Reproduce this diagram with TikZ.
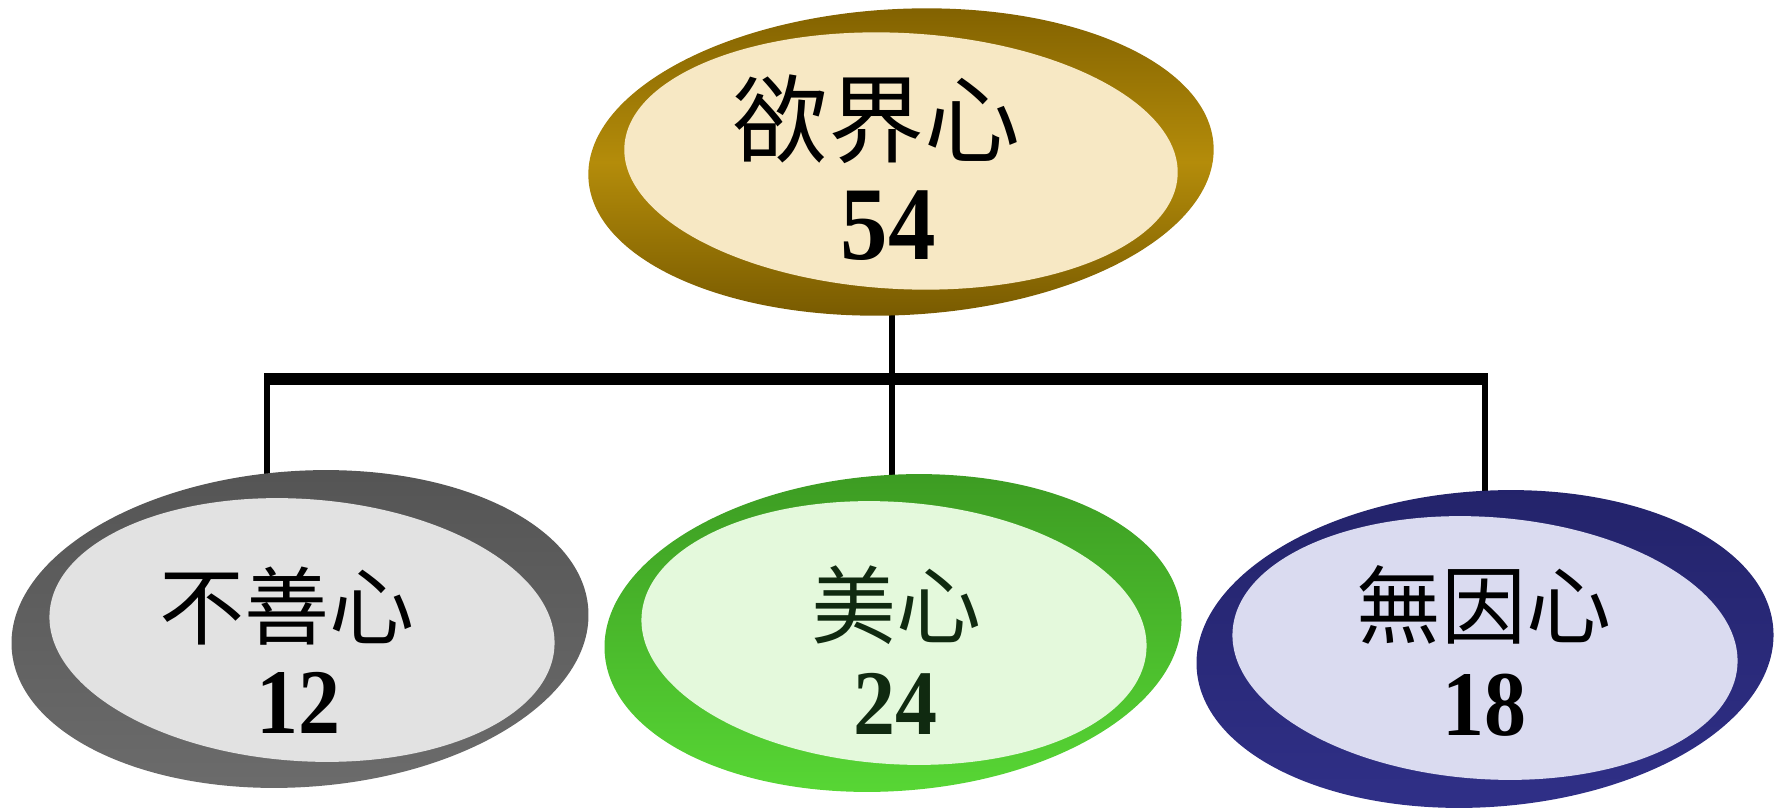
\documentclass[tikz,border=0pt]{standalone}
\usepackage{fontspec}
\setmainfont{Liberation Serif}
\newfontfamily\cjk{Noto Sans CJK TC}
\usetikzlibrary{shapes.geometric,backgrounds}

\definecolor{goldDark}{HTML}{806000}
\definecolor{goldLight}{HTML}{B48C0A}
\definecolor{goldCore}{HTML}{F7E8C4}
\definecolor{greyDark}{HTML}{545454}
\definecolor{greyLight}{HTML}{6C6C6C}
\definecolor{greyCore}{HTML}{E2E2E2}
\definecolor{greenDark}{HTML}{3C9A22}
\definecolor{greenLight}{HTML}{58D835}
\definecolor{greenCore}{HTML}{E4F9DC}
\definecolor{greenText}{HTML}{102A10}
\definecolor{navyDark}{HTML}{23236A}
\definecolor{navyLight}{HTML}{303088}
\definecolor{navyCore}{HTML}{DADBF0}

\begin{document}
\begin{tikzpicture}[x=1pt,y=1pt,
	link/.style={line width=6pt}, % connector lines
	bar/.style={line width=12pt},
	ring/.style={ellipse,inner sep=0pt,outer sep=0pt,
		minimum width=578pt,minimum height=316pt},
	core/.style={ellipse,inner sep=0pt,outer sep=0pt,
		minimum width=506pt,minimum height=262pt},
	cjkname/.style={inner sep=0pt,font=\cjk\fontsize{85}{90}\selectfont},
	number/.style={inner sep=0pt,font=\bfseries\fontsize{84}{90}\selectfont}]
	\useasboundingbox (0,0) rectangle (1783,-811);

	% top: kama
	\node[ring,rotate=3,minimum width=626pt,minimum height=306pt,
		top color=goldDark,bottom color=goldDark!92!black,middle color=goldLight] (kama) at (901,-162) {};
	\node[core,rotate=-3,minimum width=554pt,minimum height=256pt,fill=goldCore] (kamaCore) at (901,-161) {};
	\node[cjkname,font=\cjk\fontsize{96}{100}\selectfont] (kamaName) at (876,-119) {欲界心};
	\node[number,font=\bfseries\fontsize{95}{100}\selectfont] (kamaNum) at (888,-226) {\scalebox{1}[1.1]{54}};

	% bottom row
	\node[ring,rotate=4,top color=greyDark,bottom color=greyLight] (akusala) at (300,-629) {};
	\node[core,rotate=-4,fill=greyCore] (akusalaCore) at (302,-630) {};
	\node[cjkname] (akusalaName) at (287,-606) {不善心};
	\node[number] (akusalaNum) at (298,-703) {\scalebox{1}[1.1]{12}};

	\node[ring,rotate=4,top color=greenDark,bottom color=greenLight] (sobhana) at (893,-633) {};
	\node[core,rotate=-4,fill=greenCore] (sobhanaCore) at (894,-633) {};
	\node[cjkname,text=greenText] (sobhanaName) at (896,-605) {美心};
	\node[number,text=greenText] (sobhanaNum) at (895,-704) {\scalebox{1}[1.1]{24}};

	\node[ring,rotate=4,top color=navyDark,bottom color=navyLight] (ahetuka) at (1485,-649) {};
	\node[core,rotate=-4,fill=navyCore] (ahetukaCore) at (1485,-648) {};
	\node[cjkname] (ahetukaName) at (1484,-605) {無因心};
	\node[number] (ahetukaNum) at (1484,-705) {\scalebox{1}[1.1]{18}};

	% connectors
	\coordinate (barL) at (267,-379);
	\coordinate (barM) at (892,-379);
	\coordinate (barR) at (1485,-379);
	\begin{scope}[on background layer]
		\draw[link] (barM) -- (barM |- kama.center);
		\draw[bar,shorten <=-3pt,shorten >=-3pt] (barL) -- (barR);
		\draw[link] (barL) -- (barL |- akusala.center);
		\draw[link] (barM) -- (barM |- sobhana.center);
		\draw[link] (barR) -- (barR |- ahetuka.center);
	\end{scope}

\end{tikzpicture}
\end{document}
